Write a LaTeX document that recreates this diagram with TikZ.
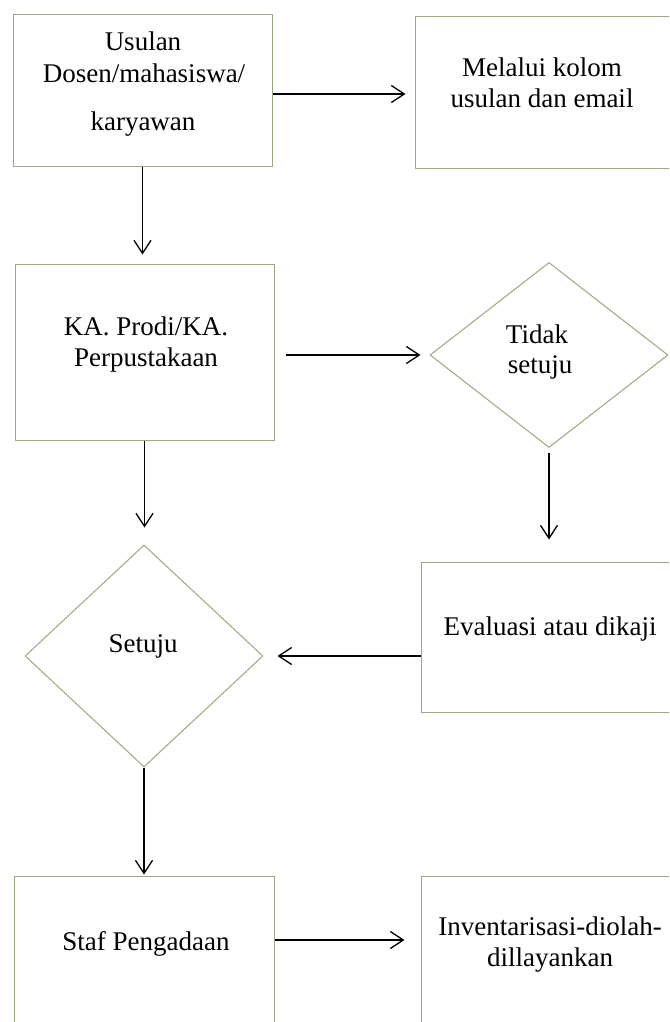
\documentclass[tikz,border=0pt]{standalone}
\usepackage{fontspec}
\setmainfont{Liberation Serif}
\usetikzlibrary{shapes.geometric,arrows.meta}
\definecolor{boxline}{RGB}{150,170,125}
\begin{document}
\begin{tikzpicture}[x=1pt,y=-1pt,
  box/.style={draw=boxline,line width=1pt,rectangle,inner sep=0pt},
  dia/.style={draw=boxline,line width=1pt,diamond,inner sep=0pt},
  lbl/.style={anchor=base,inner sep=0pt,font=\fontsize{27}{32}\selectfont},
  arr/.style={draw=black,line width=1.3pt,-{Straight Barb[length=13pt,width=17pt,line width=1.3pt]}}]
\useasboundingbox[fill=white] (0,0) rectangle (669,1022);
\begin{scope}
\clip (0,0) rectangle (669,1022);
% shapes
\node[box,minimum width=259pt,minimum height=151pt] (b1) at (142.5,90.5) {};
\node[box,minimum width=260pt,minimum height=151pt] (b2) at (545,92.5) {};
\node[box,minimum width=259pt,minimum height=176pt] (b3) at (144.5,352) {};
\node[dia,minimum width=238pt,minimum height=185pt] (d1) at (549,355) {};
\node[box,minimum width=254pt,minimum height=150pt] (b4) at (548,637) {};
\node[dia,minimum width=238pt,minimum height=222pt] (d2) at (144,656) {};
\node[box,minimum width=260pt,minimum height=154pt] (b5) at (144,953) {};
\node[box,minimum width=254pt,minimum height=154pt] (b6) at (548,953) {};
% texts
\node[lbl] (t1a) at (143,51) {Usulan};
\node[lbl] (t1b) at (144,83) {Dosen/mahasiswa/};
\node[lbl] (t1c) at (143,131) {karyawan};
\node[lbl] (t2a) at (542,77) {Melalui kolom};
\node[lbl] (t2b) at (542,108) {usulan dan email};
\node[lbl] (t3a) at (146,335) {KA. Prodi/KA.};
\node[lbl] (t3b) at (146,366) {Perpustakaan};
\node[lbl] (t4a) at (537,343) {Tidak};
\node[lbl] (t4b) at (540,373) {setuju};
\node[lbl] (t5) at (143,652) {Setuju};
\node[lbl] (t6) at (550,635) {Evaluasi atau dikaji};
\node[lbl] (t7) at (146,950) {Staf Pengadaan};
\node[lbl] (t8a) at (550,935) {Inventarisasi-diolah-};
\node[lbl] (t8b) at (550,966) {dillayankan};
% connectors
\draw[arr,shorten >=9pt] ([yshift=-3.5pt]b1.east) -- ([yshift=-3.5pt]b1.east -| b2.west);
\draw[arr,shorten >=9pt] (b1.south) -- (b1.south |- b3.north);
\draw[arr,shorten <=11pt,shorten >=9pt] (b3.east |- d1.west) -- (d1.west);
\draw[arr,shorten >=17pt] (b3.south) -- (b3.south |- d2.north);
\draw[arr,shorten <=5pt,shorten >=22pt] (d1.south) -- (d1.south |- b4.north);
\draw[arr,shorten >=14pt] (b4.west |- d2.east) -- (d2.east);
\draw[arr,shorten >=1pt] (d2.south) -- (d2.south |- b5.north);
\draw[arr,shorten >=16pt] ([yshift=13pt]b5.east) -- ([yshift=13pt]b5.east -| b6.west);
\end{scope}
\end{tikzpicture}
\end{document}
